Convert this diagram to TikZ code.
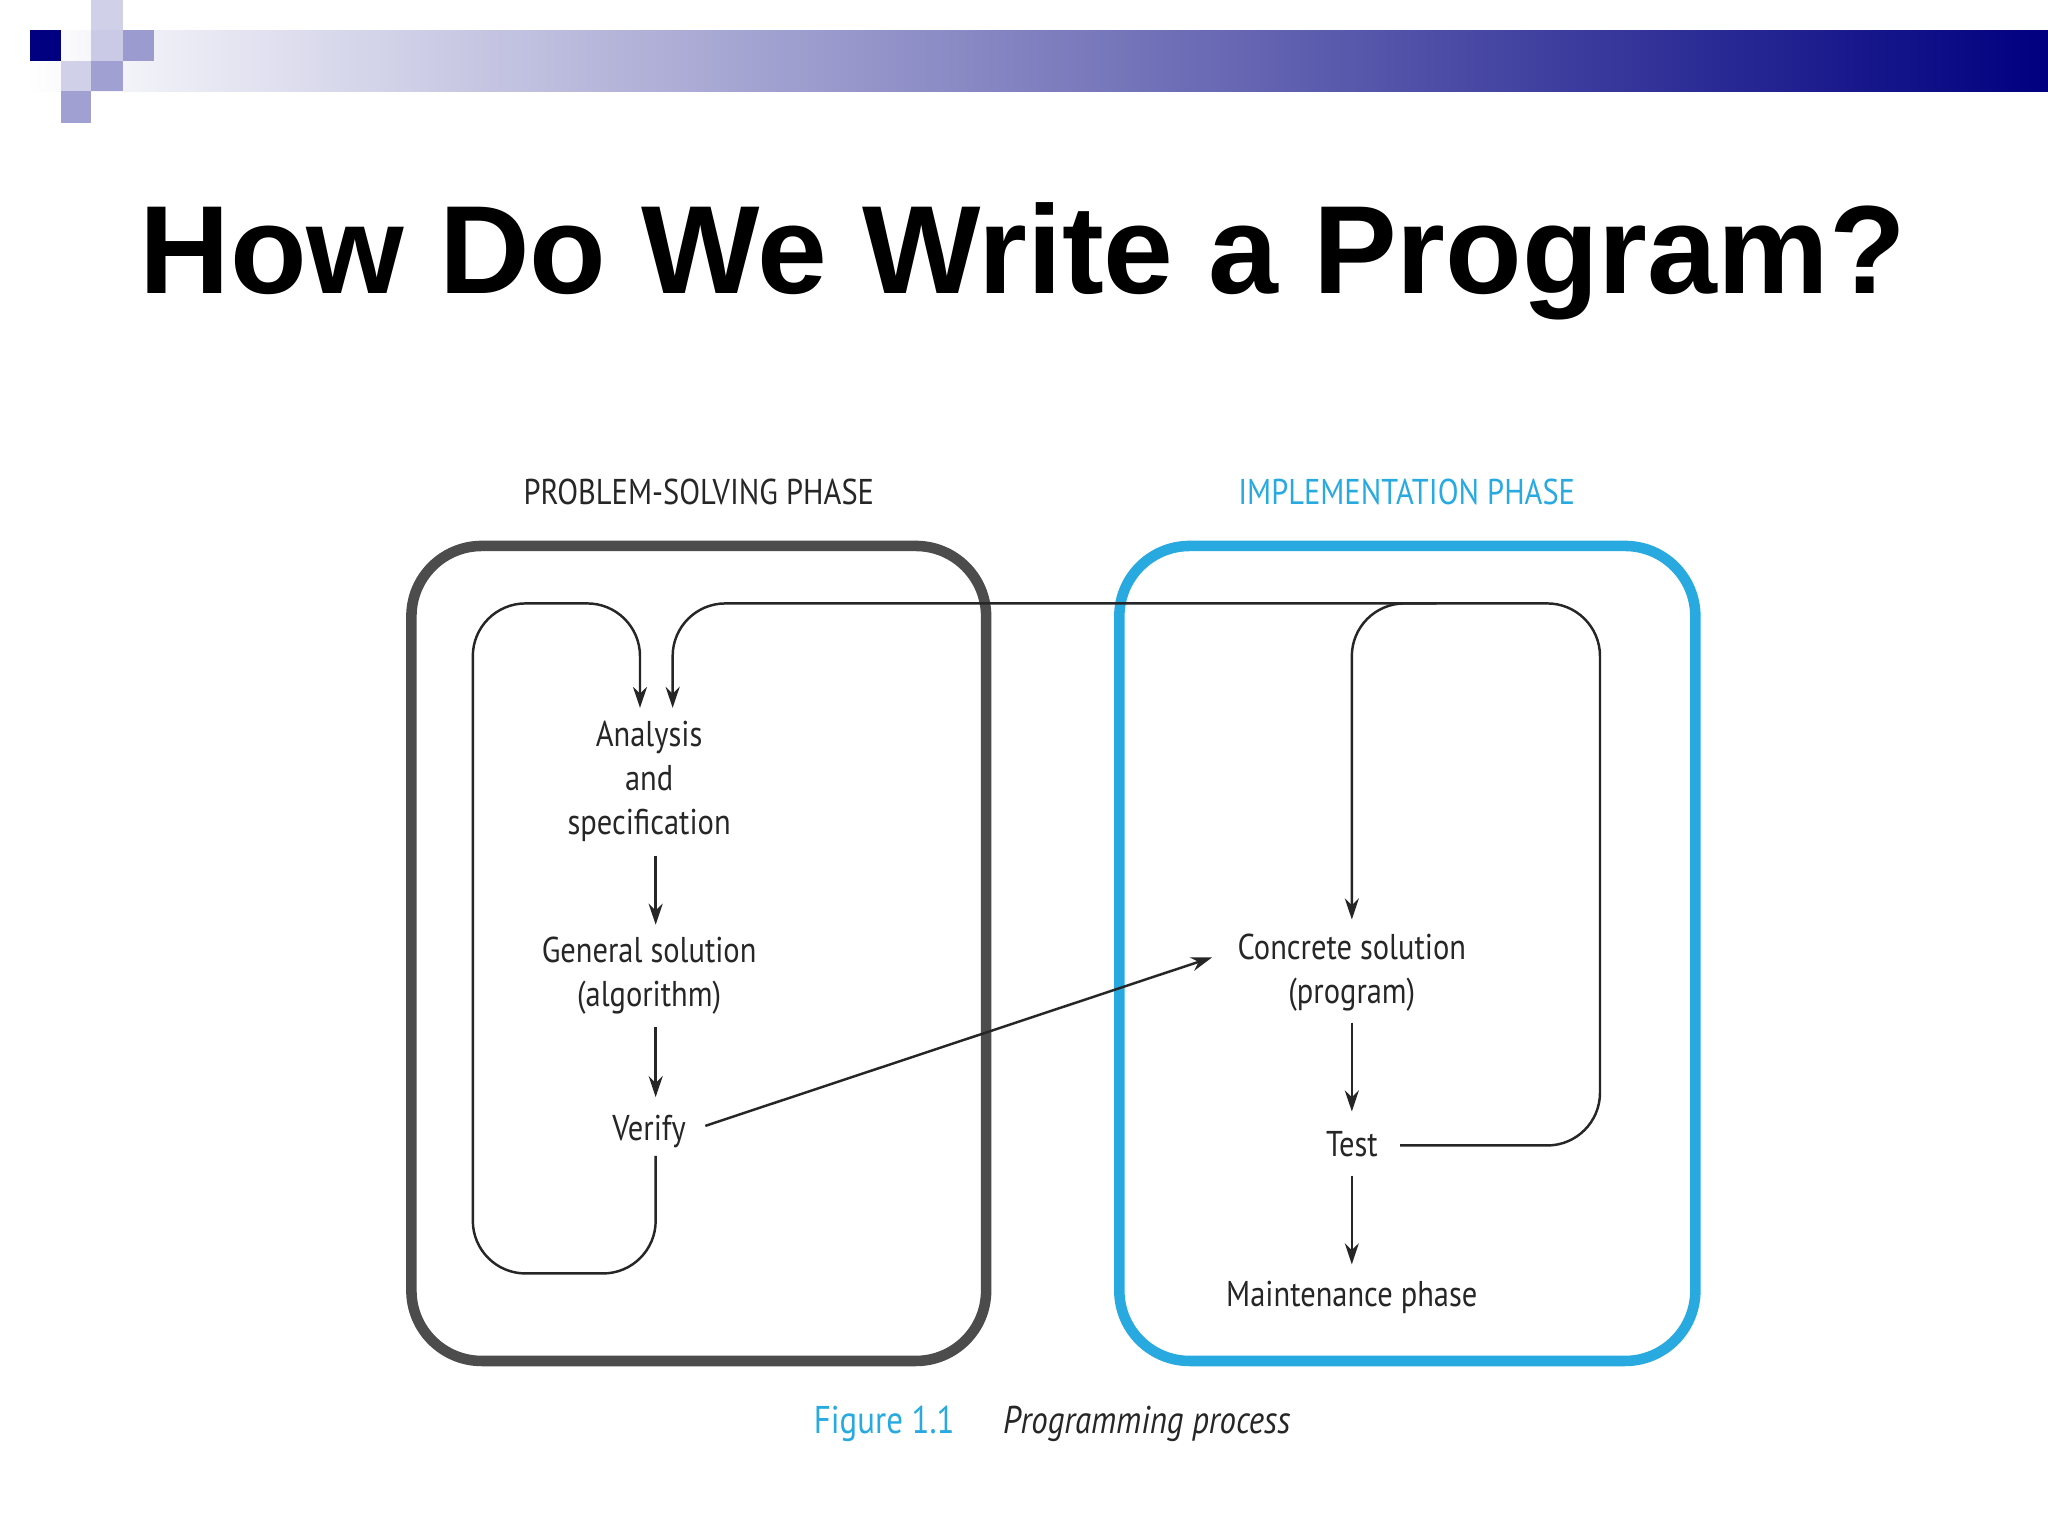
\documentclass[tikz,border=0pt]{standalone}
\usepackage{fontspec}
\setmainfont{PT Sans}
\newfontfamily\titlefont{Liberation Sans}
\usetikzlibrary{arrows.meta}
\definecolor{navy}{RGB}{0,0,128}
\definecolor{lav}{RGB}{150,150,205}
\definecolor{cyanb}{RGB}{40,170,225}
\begin{document}
\begin{tikzpicture}[x=0.01306cm,y=-0.01306cm,
  lbl/.style={font=\fontsize{10.2}{12.5}\selectfont\addfontfeature{FakeStretch=0.85},align=center,text=black!85},
  con/.style={line width=0.7pt,black!85},
  arr/.style={con,-{Stealth[length=6pt,width=4pt]}}]
\useasboundingbox (0,0) rectangle (1568,1176);
\fill[white] (0,0) rectangle (1568,1176);
% decoration
\shade[left color=white,right color=navy] (20,23) rectangle (1568,70);
\fill[navy] (23,23) rectangle (47,47);
\fill[lav!45] (70,0) rectangle (94,23);
\fill[lav!50] (70,23) rectangle (94,47);
\fill[lav!95] (94,23) rectangle (118,47);
\fill[lav!45] (47,47) rectangle (70,70);
\fill[lav!90] (70,47) rectangle (94,70);
\fill[lav!90] (47,70) rectangle (70,94);
% title
\node (title) at (783,200) {\titlefont\bfseries\fontsize{35.7}{42}\selectfont How Do We Write a Program?};
% boxes
\draw[line width=3pt,black!70,rounded corners=20pt] (315,418) rectangle (755,1042);
\draw[line width=3pt,cyanb,rounded corners=20pt] (857,418) rectangle (1298,1042);
\node[lbl] (pl) at (535,377) {PROBLEM-SOLVING PHASE};
\node[lbl,text=cyanb] (il) at (1077,377) {IMPLEMENTATION PHASE};
% nodes
\node[lbl] (an) at (497,598) {Analysis\\and\\specification};
\node[lbl] (gs) at (497,747) {General solution\\(algorithm)};
\node[lbl] (ve) at (497,866) {Verify};
\node[lbl] (cs) at (1035,745) {Concrete solution\\(program)};
\node[lbl] (te) at (1035,876) {Test};
\node[lbl] (ma) at (1035,993) {Maintenance phase};
\coordinate (a1) at (490,542);
\coordinate (a2) at (515,542);
% straight arrows
\draw[arr] (502,655) -- (502,708);
\draw[arr] (502,786) -- (502,840);
\draw[arr] (1035,783) -- (1035,851);
\draw[arr] (1035,900) -- (1035,968);
\draw[arr] (540,862) -- (928,733);
% left loop
\draw[arr,rounded corners=15pt] (502,885) -- (502,975) -- (362,975) -- (362,462) -- (490,462) -- (a1);
% big loop
\draw[arr,rounded corners=15pt] (1072,877) -- (1225,877) -- (1225,462) -- (515,462) -- (a2);
% branch to concrete solution
\draw[arr,rounded corners=15pt] (1100,462) -- (1035,462) -- (1035,704);
% caption
\node[font=\fontsize{11}{13}\selectfont\addfontfeature{FakeStretch=0.85},text=cyanb] (fig) at (677,1090) {Figure 1.1};
\node[font=\fontsize{11}{13}\selectfont\itshape\addfontfeature{FakeStretch=0.85},text=black!85] (cap) at (878,1090) {Programming process};
\end{tikzpicture}
\end{document}
